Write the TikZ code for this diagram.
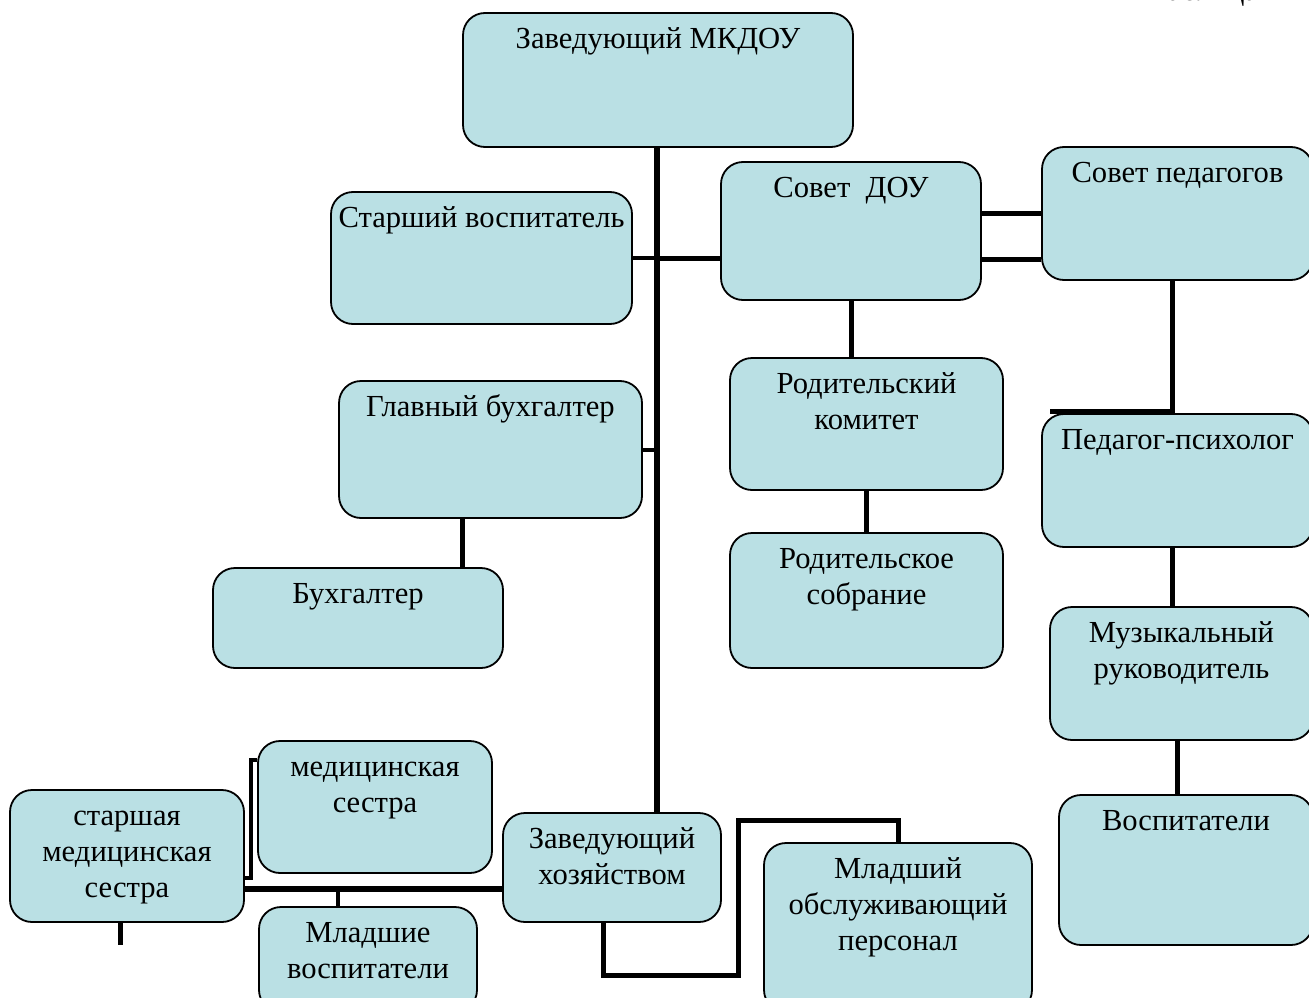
\documentclass[tikz,border=0pt]{standalone}
\usepackage{fontspec}
\setmainfont{Liberation Serif}
\definecolor{boxfill}{RGB}{186,224,228}
\tikzset{
  box/.style={draw=black, line width=1.8pt, fill=boxfill, rounded corners=22pt, inner sep=0pt},
  lbl/.style={align=center, inner sep=0pt, font=\fontsize{30.6}{36}\selectfont},
  conn/.style={line width=6.5pt, line cap=butt, line join=miter},
  connm/.style={line width=5pt, line cap=butt, line join=miter},
  conns/.style={line width=4pt, line cap=butt, line join=miter}
}
\newcommand{\bx}[6]{%
  \node[box, minimum width={(#4-#2)*1pt}, minimum height={(#5-#3)*1pt}] (#1) at ({(#2+#4)/2},{(#3+#5)/2}) {};
  \node[lbl, anchor=north] (#1t) at ([yshift=-9pt]#1.north) {\rule{0pt}{27pt}#6};
}
\begin{document}
\begin{tikzpicture}[x=1pt, y=-1pt]
\useasboundingbox (0,0) rectangle (1309,998);
\node[lbl, anchor=base west] (tab) at (1150,1) {Таблица 1};

\bx{b1}{463}{13}{853}{147}{Заведующий МКДОУ}
\bx{b2}{331}{192}{632}{324}{Старший воспитатель}
\bx{b3}{721}{162}{981}{300}{Совет~~ДОУ}
\bx{b4}{1042}{147}{1313}{280}{Совет педагогов}
\bx{b5}{339}{381}{642}{518}{Главный бухгалтер}
\bx{b6}{213}{568}{503}{668}{Бухгалтер}
\bx{b7}{730}{358}{1003}{490}{Родительский\\комитет}
\bx{b8}{730}{533}{1003}{668}{Родительское\\собрание}
\bx{b9}{1042}{414}{1313}{547}{Педагог-психолог}
\bx{b10}{1050}{607}{1313}{740}{Музыкальный\\руководитель}
\bx{b11}{1059}{795}{1313}{945}{Воспитатели}
\bx{b12}{258}{741}{492}{873}{медицинская\\сестра}
\bx{b13}{10}{790}{244}{922}{старшая\\медицинская\\сестра}
\bx{b14}{259}{907}{477}{1012}{Младшие\\воспитатели}
\bx{b15}{503}{813}{721}{922}{Заведующий\\хозяйством}
\bx{b16}{764}{843}{1032}{1012}{Младший\\обслуживающий\\персонал}

\coordinate (xmain) at (657,0);
\coordinate (xpsy) at (1172,0);
\coordinate (xmus) at (1177,0);
\coordinate (xbk) at (462,0);
\coordinate (ytop) at (0,213);
\coordinate (ybot) at (0,259);
\coordinate (ylow) at (0,889);
\coordinate (ybr1) at (0,878);
\coordinate (ybr2) at (0,760);
\coordinate (stub) at (338,889);
\coordinate (tail) at (120,945);

% main spine
\draw[conn] (b1.south -| xmain) -- (b15.north -| xmain);
\draw[conns] (b2.east) -- (b2.east -| xmain);
\draw[connm] (b2.east -| xmain) -- (b2.east -| b3.west);
\draw[conns] (b5.east) -- (b5.east -| xmain);
% Совет ДОУ -- Совет педагогов
\draw[connm] (b3.east |- ytop) -- (b4.west |- ytop);
\draw[connm] (b3.east |- ybot) -- (b4.west |- ybot);
% Совет ДОУ -- parents
\draw[connm] (b3.south) -- (b3.south |- b7.north);
\draw[connm] (b7.south) -- (b7.south |- b8.north);
% right column
\draw[connm] (b4.south -| xpsy) |- ([xshift=9pt, yshift=2pt]b9.north west);
\draw[connm] (b9.south -| xpsy) -- (b10.north -| xpsy);
\draw[connm] (b10.south -| xmus) -- (b11.north -| xmus);
% accounting
\draw[connm] (b5.south -| xbk) -- (b6.north -| xbk);
% bottom left
\draw[conn] (b13.east |- ylow) -- (b15.west |- ylow);
\draw[conns] (stub) -- (stub |- b14.north);
\draw[conns] (b13.east |- ybr1) -- (251,878) -- (251,760) -- (b12.west |- ybr2);
\draw[connm] (b13.south -| tail) -- (tail);
% хозяйство -- младший персонал
\draw[connm] (b15.south -| 603,0) -- (603,975) -- (738,975) -- (738,820) -- (898,820) -- (b16.north -| 898,0);
\end{tikzpicture}
\end{document}
